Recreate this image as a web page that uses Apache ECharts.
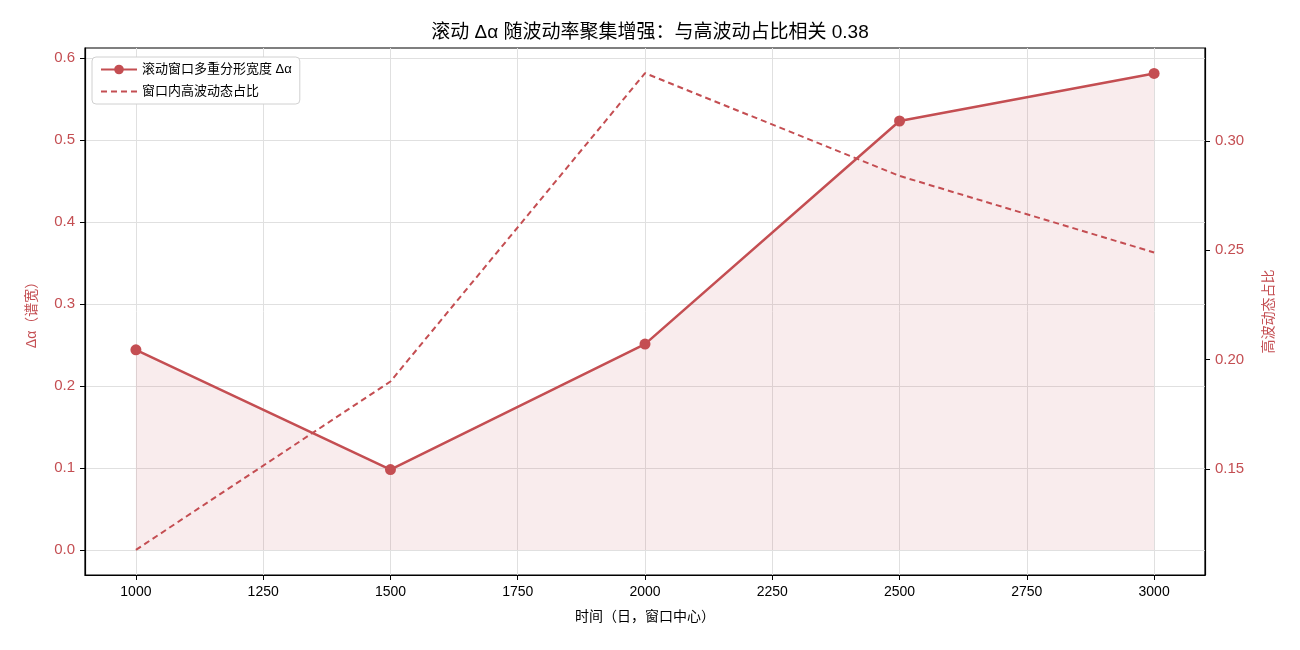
<!DOCTYPE html>
<html>
<head>
<meta charset="utf-8">
<script src="https://cdn.jsdelivr.net/npm/echarts@6/dist/echarts.min.js"></script>
<style>
  html, body { margin: 0; padding: 0; background: #fff; }
  #chart { width: 1300px; height: 650px; }
</style>
</head>
<body>
<div id="chart"></div>
<script>
// 窗口中心（日）
const windowCenters = [1000, 1500, 2000, 2500, 3000];
// 滚动窗口多重分形宽度 Δα
const deltaAlpha = [0.244, 0.098, 0.251, 0.523, 0.581];
// 窗口内高波动态占比
const highVolShare = [0.113, 0.190, 0.331, 0.284, 0.249];
// 刻度
const xTicks = [1000, 1250, 1500, 1750, 2000, 2250, 2500, 2750, 3000];
const leftTicks = [0.0, 0.1, 0.2, 0.3, 0.4, 0.5, 0.6];
const rightTicks = [0.15, 0.20, 0.25, 0.30];

const red = '#c44e52';
const font = "'Liberation Sans', 'Noto Sans CJK SC', sans-serif";

const chart = echarts.init(document.getElementById('chart'));
const option = {
    animation: false,
    textStyle: { fontFamily: font },
    title: {
        text: '滚动 Δα 随波动率聚集增强：与高波动占比相关 0.38',
        left: 'center',
        top: 18,
        textStyle: { fontSize: 19, fontWeight: 'normal', color: '#000', fontFamily: font }
    },
    grid: { left: 85, right: 95, top: 48, bottom: 75, show: true, borderColor: '#000', borderWidth: 1.2 },
    legend: {
        orient: 'vertical',
        left: 92,
        top: 57,
        padding: [6, 8],
        itemGap: 9,
        itemWidth: 36,
        itemHeight: 12,
        backgroundColor: '#fff',
        borderColor: '#d0d0d0',
        borderWidth: 1,
        borderRadius: 4,
        textStyle: { fontSize: 13, color: '#000' },
        data: [
            { name: '滚动窗口多重分形宽度 Δα' },
            { name: '窗口内高波动态占比', itemStyle: { opacity: 0 } }
        ]
    },
    xAxis: {
        type: 'value',
        min: 900,
        max: 3100,
        name: '时间（日，窗口中心）',
        nameLocation: 'middle',
        nameGap: 35,
        nameTextStyle: { fontSize: 14, color: '#000' },
        axisLine: { show: true, onZero: false, lineStyle: { color: '#000', width: 1.2 } },
        axisTick: { show: true, customValues: xTicks, length: 5, lineStyle: { color: '#000' } },
        axisLabel: { customValues: xTicks, fontSize: 14, color: '#000', margin: 10, formatter: v => String(v) },
        splitLine: { show: true, lineStyle: { color: '#e0e0e0', width: 1 } }
    },
    yAxis: [
        {
            type: 'value',
            min: -0.0305,
            max: 0.612,
            name: 'Δα（谱宽）',
            nameLocation: 'middle',
            nameRotate: 90,
            nameGap: 46,
            nameTextStyle: { fontSize: 14, color: red },
            axisLine: { show: true, lineStyle: { color: '#000', width: 1.2 } },
            axisTick: { show: true, customValues: leftTicks, length: 5, lineStyle: { color: '#000' } },
            axisLabel: {
                customValues: leftTicks, fontSize: 15, color: red, margin: 10,
                formatter: v => v.toFixed(1)
            },
            splitLine: { show: true, lineStyle: { color: '#e0e0e0', width: 1 } }
        },
        {
            type: 'value',
            position: 'right',
            min: 0.1015,
            max: 0.3425,
            name: '高波动态占比',
            nameLocation: 'middle',
            nameRotate: 90,
            nameGap: 57,
            nameTextStyle: { fontSize: 14, color: red },
            axisLine: { show: true, lineStyle: { color: '#000', width: 1.2 } },
            axisTick: { show: true, customValues: rightTicks, length: 5, lineStyle: { color: '#000' } },
            axisLabel: {
                customValues: rightTicks, fontSize: 15, color: red, margin: 10,
                formatter: v => v.toFixed(2)
            },
            splitLine: { show: false }
        }
    ],
    series: [
        {
            name: '滚动窗口多重分形宽度 Δα',
            type: 'line',
            yAxisIndex: 0,
            data: windowCenters.map((x, i) => [x, deltaAlpha[i]]),
            symbol: 'circle',
            symbolSize: 11,
            itemStyle: { color: red },
            lineStyle: { color: red, width: 2.5 },
            areaStyle: { color: 'rgba(196,78,82,0.15)', origin: 0 },
            z: 3
        },
        {
            name: '窗口内高波动态占比',
            type: 'line',
            yAxisIndex: 1,
            data: windowCenters.map((x, i) => [x, highVolShare[i]]),
            symbol: 'none',
            itemStyle: { color: red },
            lineStyle: { color: red, width: 2, type: [6, 4] },
            z: 2
        }
    ]
};
chart.setOption(option);
window.addEventListener('resize', () => chart.resize());
</script>
</body>
</html>
